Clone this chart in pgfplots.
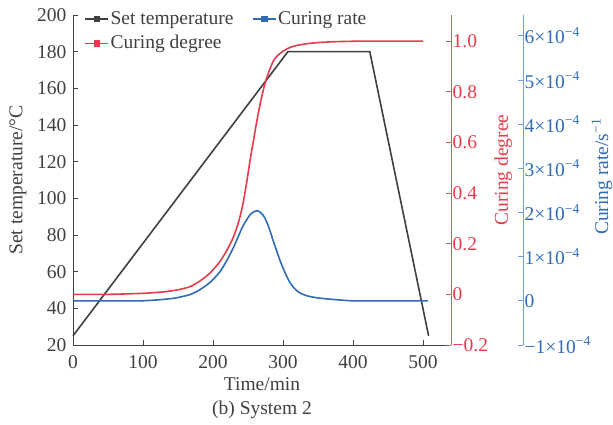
\documentclass[border=0pt]{standalone}
\usepackage{fontspec}
\setmainfont{Liberation Serif}
\usepackage{pgfplots}
\pgfplotsset{compat=1.18}
\definecolor{cblack}{HTML}{404040}
\definecolor{cred}{HTML}{E63B4B}
\definecolor{cblue}{HTML}{2F6CB5}
\definecolor{credax}{HTML}{E8505E}
\definecolor{cblueax}{HTML}{6F9FD6}
\begin{document}
\fontsize{19.5}{23}\selectfont
\begin{tikzpicture}
\pgfplotsset{
  every axis/.append style={
    font=\fontsize{19.5}{23}\selectfont,
    scale only axis, height=330pt,
    /pgf/number format/assume math mode=true,
    tick align=inside, major tick length=5pt,
    clip=false,
  },
}
% main axis
\begin{axis}[
  width=378pt, xmin=0, xmax=540, ymin=20, ymax=200,
  axis x line*=bottom, axis y line*=left,
  axis line style={cblack, line width=0.8pt},
  tick style={cblack, line width=0.8pt},
  xtick={0,100,200,300,400,500},
  ytick={20,40,60,80,100,120,140,160,180,200},
  ticklabel style={text=cblack},
  xticklabel style={yshift=-4pt},
  xlabel={Time/min\\[1pt](b) System 2},
  xlabel style={align=center, text=cblack, at={(axis description cs:0.5,0)}, anchor=center, yshift=-53pt, inner sep=0pt},
  ylabel={Set temperature/°C},
  ylabel style={text=cblack, at={(axis description cs:-0.1455,0.5)}, anchor=center, rotate=0},
  legend columns=2,
  legend cell align=left,
  legend style={draw=none, fill=none, at={(axis description cs:0.03,1.018)}, anchor=north west,
    font=\fontsize{19.5}{23}\selectfont, text=cblack, inner xsep=0pt, inner ysep=0pt,
    nodes={inner xsep=1.5pt, inner ysep=2pt},
    /tikz/every even column/.append style={column sep=17pt},
    row sep=4pt},
  legend image code/.code={
    \draw[#1] (0pt,0pt) -- (23pt,0pt);
    \fill[#1] (11.5pt,0pt) +(-2.5pt,-2.5pt) rectangle +(2.5pt,2.5pt);},
]
\addplot[cblack, line width=1.6pt] coordinates {(0,25)(307,180)(424,180)(508,25)};
\addlegendentry{Set temperature}
\addlegendimage{cblue, line width=1.6pt}
\addlegendentry{Curing rate}
\addlegendimage{cred, line width=1.6pt}
\addlegendentry{Curing degree}
\end{axis}
% red axis
\begin{axis}[
  width=378pt, xmin=0, xmax=540, ymin=-0.2, ymax=1.103,
  axis x line=none, axis y line*=right,
  y axis line style={credax, line width=0.8pt},
  ytick style={credax, line width=0.8pt},
  ytick={-0.2,0,0.2,0.4,0.6,0.8,1.0},
  yticklabels={−0.2,0,0.2,0.4,0.6,0.8,1.0},
  yticklabel style={text=cred, xshift=-5pt},
  ylabel={Curing degree},
  ylabel style={text=cred, at={(axis description cs:1.138,0.53)}, anchor=center, rotate=0},
]
\addplot[cred, line width=1.6pt, smooth, tension=0.4] coordinates {
(0,0)(50,0)(100,0.004)(130,0.01)(150,0.018)(167,0.03)(181,0.052)(196,0.085)(210,0.13)(220,0.175)
(229,0.225)(237,0.29)(243,0.36)(248,0.44)(253,0.53)(258,0.61)(263,0.69)(268,0.76)
(274,0.83)(280,0.88)(286,0.92)(293,0.945)(300,0.96)(310,0.975)(320,0.983)(335,0.99)
(355,0.995)(380,0.998)(420,1.0)(500,1.0)};
\end{axis}
% blue axis
\begin{axis}[
  width=450pt, xmin=0, xmax=642.857, ymin=-1e-4, ymax=6.47e-4,
  axis x line=none, axis y line*=right,
  y axis line style={cblueax, line width=0.8pt},
  ytick style={cblueax, line width=0.8pt},
  scaled y ticks=false,
  ytick={-1e-4,0,1e-4,2e-4,3e-4,4e-4,5e-4,6e-4},
  yticklabels={−1×10\textsuperscript{−4},0,1×10\textsuperscript{−4},2×10\textsuperscript{−4},3×10\textsuperscript{−4},4×10\textsuperscript{−4},5×10\textsuperscript{−4},6×10\textsuperscript{−4}},
  yticklabel style={text=cblue, xshift=-5pt},
  ylabel={Curing rate/s\textsuperscript{−1}},
  ylabel style={text=cblue, at={(axis description cs:1.1756,0.51)}, anchor=center, rotate=0, inner sep=0pt},
]
\addplot[cblue, line width=1.6pt, smooth, tension=0.4] coordinates {
(0,0)(50,0)(96,0)(120,0.02e-4)(145,0.06e-4)(167,0.14e-4)(181,0.25e-4)(196,0.42e-4)(210,0.66e-4)
(220,0.92e-4)(229,1.2e-4)(236,1.45e-4)(243,1.7e-4)(253,1.95e-4)(258,2.01e-4)(263,2.04e-4)
(268,2.0e-4)(274,1.88e-4)(280,1.65e-4)(286,1.36e-4)(292,1.08e-4)(298,0.82e-4)(304,0.6e-4)
(310,0.41e-4)(317,0.27e-4)(324,0.18e-4)(335,0.11e-4)(348,0.07e-4)(365,0.04e-4)(381,0.02e-4)
(400,0)(450,0)(507,0)};
\end{axis}
\pgfresetboundingbox
\path (-73pt,-80pt) rectangle (540pt,345pt);
\end{tikzpicture}
\end{document}
